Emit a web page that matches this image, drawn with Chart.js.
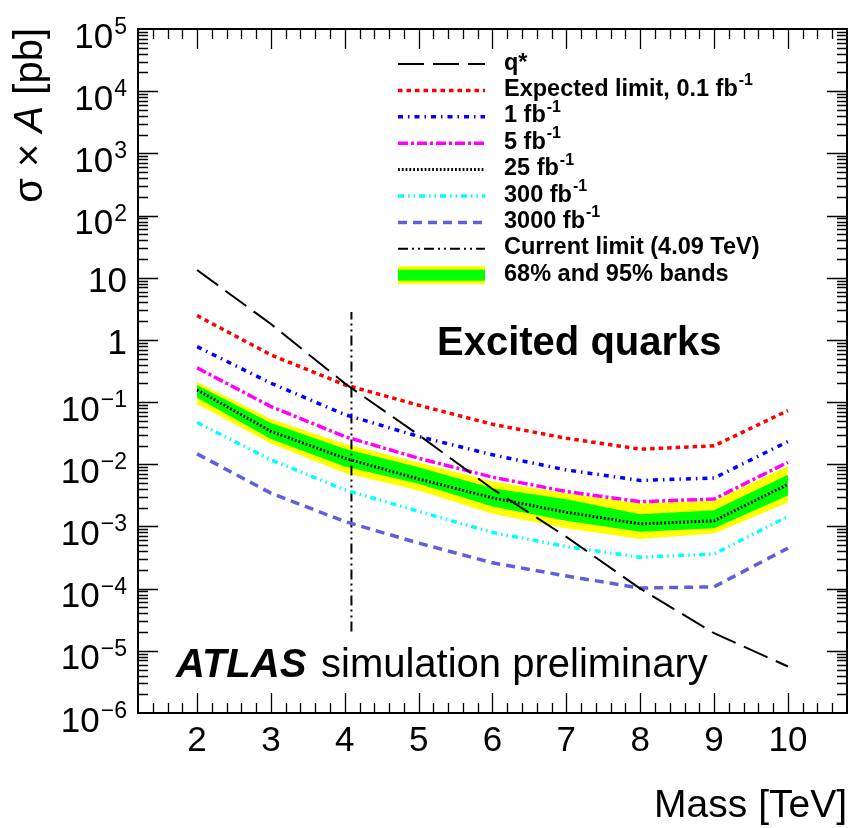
<!DOCTYPE html>
<html>
<head>
<meta charset="utf-8">
<script src="https://cdn.jsdelivr.net/npm/chart.js@4.4.1/dist/chart.umd.min.js"></script>
<style>
    html, body { margin: 0; padding: 0; background: #fff; }
</style>
</head>
<body>
<canvas id="chart" width="850" height="828"></canvas>
<script>
"use strict";

// Data (cross-section x acceptance in pb)
const MASS = [2, 3, 4, 5, 6, 7, 8, 9, 10];
const QSTAR = [13.3, 1.8, 0.2, 0.0297, 0.004, 0.00068, 1.0e-4, 1.92e-5, 5.6e-6];
const LIMIT_01 = [2.46, 0.574, 0.19, 0.089, 0.044, 0.0262, 0.0175, 0.0198, 0.0731];
const LIMIT_1 = [0.78, 0.201, 0.063, 0.028, 0.0142, 0.0081, 0.0055, 0.006, 0.0232];
const LIMIT_5 = [0.355, 0.0847, 0.0279, 0.0125, 0.0062, 0.00364, 0.0025, 0.00276, 0.0108];
const LIMIT_25 = [0.157, 0.0338, 0.0125, 0.0058, 0.00288, 0.00169, 0.0011, 0.00123, 0.00475];
const LIMIT_300 = [0.0469, 0.0118, 0.00387, 0.00175, 0.0008, 0.000475, 0.00032, 0.00036, 0.00145];
const LIMIT_3000 = [0.0147, 0.00343, 0.0012, 0.00054, 0.00026, 0.00016, 0.000102, 0.000107, 0.000448];
const BAND95_UP = [0.211, 0.0537, 0.0213, 0.01064, 0.00527, 0.00343, 0.00237, 0.00258, 0.00942];
const BAND68_UP = [0.189, 0.0463, 0.0177, 0.00897, 0.00413, 0.00275, 0.00157, 0.00183, 0.00676];
const BAND68_DN = [0.117, 0.0256, 0.00925, 0.00484, 0.00209, 0.00124, 0.00082, 0.00094, 0.00316];
const BAND95_DN = [0.0935, 0.0215, 0.00727, 0.00378, 0.0016, 0.00094, 0.00063, 0.00077, 0.00242];
const CURRENT_MASS = 4.09;
const CURRENT_RANGE = [2.04e-5, 2.8];

// Axis ticks
const X_TICKS = [2, 3, 4, 5, 6, 7, 8, 9, 10];
const Y_DECADES = [5, 4, 3, 2, 1, 0, -1, -2, -3, -4, -5, -6];

const LEGEND_LABELS = [
    "q*", "Expected limit, 0.1 fb", "1 fb", "5 fb", "25 fb",
    "300 fb", "3000 fb", "Current limit (4.09 TeV)", "68% and 95% bands"
];
const LEGEND_SUP = [false, true, true, true, true, true, true, false, false];

const FONT = "\"Liberation Sans\", Arial, Helvetica, sans-serif";

function points(values) {
    return MASS.map((m, i) => ({ x: m, y: values[i] }));
}

function band(values, color, fill, order) {
    return {
        data: points(values),
        borderWidth: 0,
        pointRadius: 0,
        backgroundColor: color,
        fill,
        order
    };
}

function line(label, data, color, width, dash) {
    return {
        label,
        data,
        borderColor: color,
        borderWidth: width,
        borderDash: dash,
        pointRadius: 0,
        fill: false,
        tension: 0,
        order: 1
    };
}

// ROOT-like frame, inward ticks, labels and legend
const rootStyle = {
    id: "rootStyle",
    afterDraw(chart) {
        const { ctx, chartArea: area } = chart;
        const xs = chart.scales.x;
        const ys = chart.scales.y;
        ctx.save();
        ctx.setLineDash([]);
        ctx.fillStyle = "#000";
        ctx.strokeStyle = "#000";

        // ticks
        ctx.lineWidth = 1.3;
        ctx.beginPath();
        for (let k = 7; k < 54; k++) {
            const px = Math.round(xs.getPixelForValue(k / 5)) + 0.5;
            const len = k % 5 === 0 ? 20 : 10;
            ctx.moveTo(px, area.bottom);
            ctx.lineTo(px, area.bottom - len);
            ctx.moveTo(px, area.top);
            ctx.lineTo(px, area.top + len);
        }
        for (let d = -6; d <= 4; d++) {
            for (let m = 1; m <= 9; m++) {
                if (d === -6 && m === 1) {
                    continue;
                }
                const py = Math.round(ys.getPixelForValue(m * Math.pow(10, d))) + 0.5;
                const len = m === 1 ? 20 : 10;
                ctx.moveTo(area.left, py);
                ctx.lineTo(area.left + len, py);
                ctx.moveTo(area.right, py);
                ctx.lineTo(area.right - len, py);
            }
        }
        ctx.stroke();

        // frame
        ctx.lineWidth = 2;
        ctx.strokeRect(area.left, area.top, area.right - area.left, area.bottom - area.top);

        // y tick labels
        const big = `35px ${FONT}`;
        const small = `23px ${FONT}`;
        ctx.textAlign = "right";
        for (const d of Y_DECADES) {
            const py = ys.getPixelForValue(Math.pow(10, d));
            if (d === 0 || d === 1) {
                ctx.font = big;
                ctx.fillText(d === 0 ? "1" : "10", 127, py + 14.5);
            }
            else {
                const sup = d < 0 ? "\u2212" + (-d) : String(d);
                ctx.font = small;
                const w = ctx.measureText(sup).width;
                ctx.fillText(sup, 127, py + 5);
                ctx.font = big;
                ctx.fillText("10", 127 - w - 1, py + 18.5);
            }
        }

        // x tick labels
        ctx.textAlign = "center";
        ctx.font = big;
        for (const t of X_TICKS) {
            ctx.fillText(String(t), xs.getPixelForValue(t), 750.5);
        }

        // axis titles
        ctx.textAlign = "right";
        ctx.font = `39px ${FONT}`;
        ctx.fillText("Mass [TeV]", 847, 817);

        ctx.save();
        ctx.translate(42, 0);
        ctx.rotate(-Math.PI / 2);
        const parts = [["σ × ", `40px ${FONT}`], ["A", `italic 40px ${FONT}`], [" [pb]", `40px ${FONT}`]];
        let total = 0;
        for (const [txt, f] of parts) {
            ctx.font = f;
            total += ctx.measureText(txt).width;
        }
        let u = -28 - total;
        ctx.textAlign = "left";
        for (const [txt, f] of parts) {
            ctx.font = f;
            ctx.fillText(txt, u, 0);
            u += ctx.measureText(txt).width;
        }
        ctx.restore();

        // labels inside the frame
        ctx.textAlign = "left";
        ctx.font = `bold 40px ${FONT}`;
        ctx.fillText("Excited quarks", 437, 355);
        ctx.font = `italic bold 40px ${FONT}`;
        ctx.fillText("ATLAS", 176, 677);
        const atlasEnd = 176 + ctx.measureText("ATLAS").width;
        ctx.font = `40px ${FONT}`;
        ctx.fillText("simulation preliminary", Math.max(321, atlasEnd + 8), 677);

        // legend
        const datasets = chart.data.datasets;
        LEGEND_LABELS.forEach((label, i) => {
            const ly = 64 + i * 26.4;
            if (i === LEGEND_LABELS.length - 1) {
                ctx.fillStyle = "#ffff00";
                ctx.fillRect(398, ly - 9, 87, 18);
                ctx.fillStyle = "#00ff00";
                ctx.fillRect(398, ly - 5.5, 87, 11);
                ctx.fillStyle = "#000";
            }
            else {
                const ds = datasets.find((s) => s.label === label);
                ctx.strokeStyle = ds.borderColor;
                ctx.lineWidth = ds.borderWidth;
                ctx.setLineDash(ds.borderDash);
                ctx.beginPath();
                ctx.moveTo(398, ly);
                ctx.lineTo(485, ly);
                ctx.stroke();
                ctx.setLineDash([]);
            }
            ctx.font = `bold 23.5px ${FONT}`;
            ctx.fillText(label, 504, ly + 5.5);
            if (LEGEND_SUP[i]) {
                const w = ctx.measureText(label).width;
                ctx.font = `bold 16px ${FONT}`;
                ctx.fillText("-1", 504 + w + 1, ly - 5);
            }
        });

        ctx.restore();
    }
};

const datasets = [
    band(BAND95_UP, "#ffff00", "+1", 20),
    band(BAND95_DN, "#ffff00", false, 19),
    band(BAND68_UP, "#00ff00", "+1", 18),
    band(BAND68_DN, "#00ff00", false, 17),
    line(LEGEND_LABELS[0], points(QSTAR), "#000000", 2, [26, 9]),
    line(LEGEND_LABELS[1], points(LIMIT_01), "#ff0000", 3.5, [4.5, 4]),
    line(LEGEND_LABELS[2], points(LIMIT_1), "#0000ff", 3.5, [5, 5, 1.5, 5]),
    line(LEGEND_LABELS[3], points(LIMIT_5), "#ff00ff", 3.5, [10, 3, 3, 3]),
    line(LEGEND_LABELS[4], points(LIMIT_25), "#000000", 3, [1.8, 2]),
    line(LEGEND_LABELS[5], points(LIMIT_300), "#00ffff", 3.5, [6, 4, 1.5, 4, 1.5, 4]),
    line(LEGEND_LABELS[6], points(LIMIT_3000), "#5f5fdc", 3.5, [9, 6]),
    line(LEGEND_LABELS[7], CURRENT_RANGE.map((v) => ({ x: CURRENT_MASS, y: v })), "#000000", 2, [10, 4, 2, 4, 2, 4])
];

new Chart(document.getElementById("chart"), {
    type: "line",
    data: { datasets },
    options: {
        responsive: false,
        animation: false,
        devicePixelRatio: 1,
        layout: { padding: { left: 138, right: 3, top: 29, bottom: 115 } },
        scales: {
            x: { type: "linear", min: 1.2, max: 10.8, display: false },
            y: { type: "logarithmic", min: 1e-6, max: 1e5, display: false }
        },
        plugins: {
            legend: { display: false },
            tooltip: { enabled: false }
        }
    },
    plugins: [rootStyle]
});
</script>
</body>
</html>
